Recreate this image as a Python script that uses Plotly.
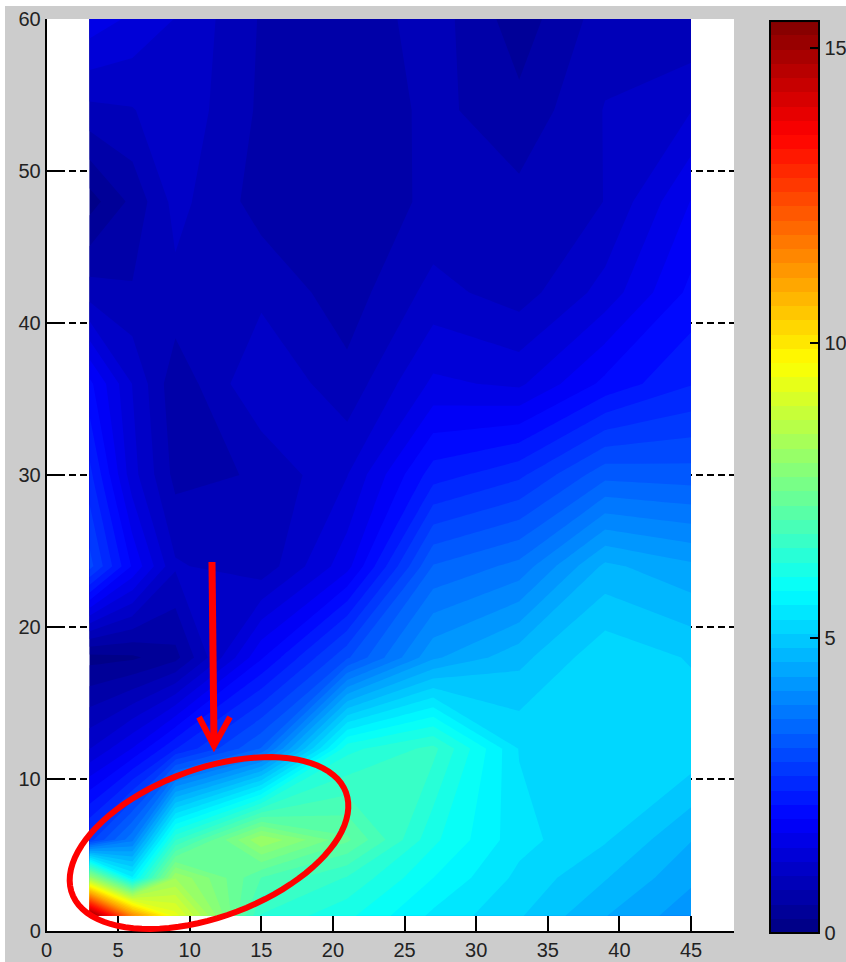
import numpy as np
import plotly.graph_objects as go

W, H = 846, 962

x_grid = [3, 6, 9, 15, 21, 27, 33, 39, 45]
y_grid = [1, 3.5, 6, 12, 18, 24, 30, 36, 42, 48, 54, 60]

# one row per y_grid value, west to east
row_y01 = [15.4, 11.5, 9.3, 6.5, 6.1, 5.5, 5.1, 4.6, 4.2]
row_y03 = [8.2, 5.6, 8.2, 7.0, 6.5, 5.8, 5.25, 4.85, 4.4]
row_y06 = [2.8, 3.8, 6.5, 8.2, 7.3, 6.1, 5.4, 5.1, 4.6]
row_y12 = [1.2, 1.7, 2.4, 3.4, 6.2, 6.6, 5.3, 5.3, 5.25]
row_y18 = [0.15, 0.2, 0.4, 1.9, 3.1, 4.3, 4.75, 5.25, 5.05]
row_y24 = [3.0, 1.9, 1.0, 0.8, 1.6, 3.4, 3.7, 4.65, 4.4]
row_y30 = [2.5, 1.3, 0.65, 0.75, 1.2, 2.3, 2.6, 3.3, 3.25]
row_y36 = [2.0, 1.2, 0.55, 1.2, 0.8, 1.5, 1.4, 2.0, 2.4]
row_y42 = [0.85, 0.75, 0.9, 0.9, 0.6, 1.05, 0.85, 1.3, 2.0]
row_y48 = [0.13, 0.55, 1.05, 0.62, 0.55, 0.78, 0.8, 0.97, 1.7]
row_y54 = [0.9, 0.95, 1.15, 0.68, 0.5, 0.8, 0.55, 0.98, 1.2]
row_y60 = [1.6, 1.4, 1.2, 0.7, 0.55, 0.85, 0.35, 0.85, 0.75]

z_rows = [row_y01, row_y03, row_y06, row_y12, row_y18, row_y24, row_y30,
          row_y36, row_y42, row_y48, row_y54, row_y60]

x_ticks = [0, 5, 10, 15, 20, 25, 30, 35, 40, 45]
y_ticks = [0, 10, 20, 30, 40, 50, 60]
cbar_ticks = [0, 5, 10, 15]

z_max = 15.46
n_levels = 64

jet = [[0.0, "rgb(0,0,128)"], [0.125, "rgb(0,0,255)"], [0.375, "rgb(0,255,255)"],
       [0.625, "rgb(255,255,0)"], [0.875, "rgb(255,0,0)"], [1.0, "rgb(128,0,0)"]]

GREY = "#cccccc"
FONT = dict(family="Liberation Sans", size=20, color="#222222")

# layout in pixels
AX_L, AX_R, AX_T, AX_B = 46.5, 734, 19, 931
CB_L, CB_R, CB_T, CB_B = 770, 819, 21, 933


def px(v):
    return v / W


def py(v):
    return 1 - v / H


def pix_path(points, close=False):
    s = "M" + " L".join(f"{px(a):.5f},{py(b):.5f}" for a, b in points)
    return s + (" Z" if close else "")


fig = go.Figure(go.Contour(
    x=x_grid, y=y_grid, z=z_rows,
    zmin=0, zmax=z_max, colorscale=jet,
    autocontour=False,
    contours=dict(start=0, end=z_max, size=z_max / n_levels, coloring="fill", showlines=False),
    line=dict(width=0, smoothing=0),
    hoverinfo="skip",
    colorbar=dict(
        x=px(CB_L), xanchor="left", xref="paper",
        y=py(CB_B), yanchor="bottom", yref="paper",
        xpad=0, ypad=0,
        lenmode="pixels", len=CB_B - CB_T,
        thicknessmode="pixels", thickness=CB_R - CB_L,
        outlinecolor="black", outlinewidth=2, borderwidth=0,
        tickmode="array", tickvals=cbar_ticks, ticktext=[str(t) for t in cbar_ticks],
        ticks="inside", ticklen=10, tickcolor="black", tickwidth=1.5,
        tickfont=FONT, ticklabelposition="outside",
    ),
))

shapes = []

# white edge at top and left of the photographed window
shapes.append(dict(type="rect", xref="paper", yref="paper", x0=0, x1=1, y0=py(6), y1=1,
                   fillcolor="white", line_width=0, layer="above"))
shapes.append(dict(type="rect", xref="paper", yref="paper", x0=0, x1=px(5), y0=0, y1=1,
                   fillcolor="white", line_width=0, layer="above"))

# left-hand colourbar ticks
for t in cbar_ticks[1:]:
    yy = CB_B - t / z_max * (CB_B - CB_T)
    shapes.append(dict(type="line", xref="paper", yref="paper",
                       x0=px(CB_L), x1=px(CB_L + 10), y0=py(yy), y1=py(yy),
                       line=dict(color="black", width=1.5)))

# red ellipse annotation
cx, cy, a, b, theta = 209, 843, 146, 74, np.radians(20.3)
ang = np.linspace(0, 2 * np.pi, 90)
ex = cx + a * np.cos(ang) * np.cos(theta) + b * np.sin(ang) * np.sin(theta)
ey = cy - a * np.cos(ang) * np.sin(theta) + b * np.sin(ang) * np.cos(theta)
shapes.append(dict(type="path", xref="paper", yref="paper",
                   path=pix_path(list(zip(ex, ey)), close=True),
                   line=dict(color="#ff0000", width=6)))

# red arrow annotation
shapes.append(dict(type="path", xref="paper", yref="paper",
                   path=pix_path([(212, 562), (214, 745)]),
                   line=dict(color="#ff0000", width=7)))
shapes.append(dict(type="path", xref="paper", yref="paper",
                   path=pix_path([(199, 717), (214, 746), (230, 717)]),
                   line=dict(color="#ff0000", width=6)))

fig.update_layout(
    width=W, height=H, margin=dict(l=0, r=0, t=0, b=0, autoexpand=False),
    paper_bgcolor=GREY, plot_bgcolor="white",
    font=FONT, showlegend=False, shapes=shapes,
    xaxis=dict(domain=[px(AX_L), px(AX_R)], range=[0, 48], tickvals=x_ticks,
               ticks="inside", ticklen=15, tickcolor="black", tickwidth=1.5,
               showgrid=False, zeroline=False, showline=True, linecolor="black", linewidth=1.5,
               tickfont=FONT, anchor="y"),
    yaxis=dict(domain=[py(AX_B), py(AX_T)], range=[0, 60], tickvals=y_ticks,
               ticks="inside", ticklen=15, tickcolor="black", tickwidth=1.5,
               showgrid=True, gridcolor="black", gridwidth=1.5, griddash="7px,4px",
               zeroline=False, showline=True, linecolor="black", linewidth=1.5,
               tickfont=FONT, anchor="x"),
)

fig.write_html("out.html", config=dict(displayModeBar=False),
               post_script="document.body.style.margin='0';document.body.style.overflow='hidden';")
